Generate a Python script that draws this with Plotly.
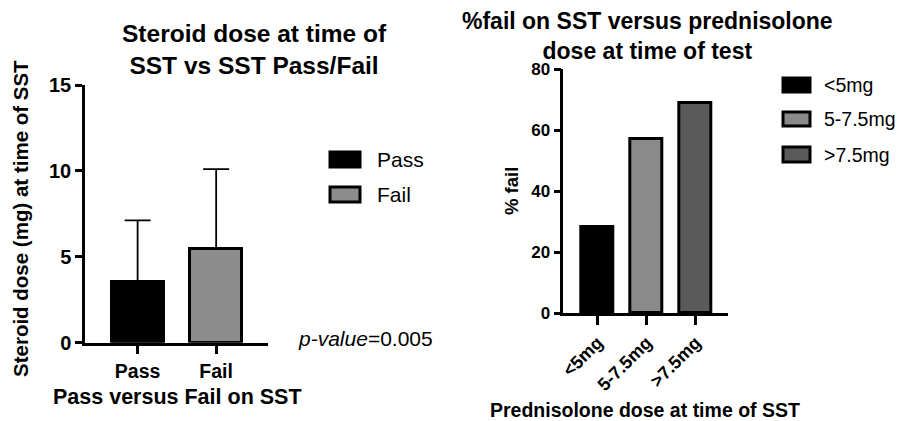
import plotly.graph_objects as go

# ---- data ----
groups = ["Pass", "Fail"]
dose_mean = [3.55, 5.45]
dose_sd = [3.57, 4.65]
group_colors = ["#000000", "#8c8c8c"]

dose_cats = ["<5mg", "5-7.5mg", ">7.5mg"]
pct_fail = [28.2, 57.1, 68.9]
dose_colors = ["#000000", "#8a8a8a", "#5a5a5a"]

W, H = 897, 421
FONT = "Liberation Sans, Arial, sans-serif"

def px(x):
    return x / W

def py(y):
    return 1 - y / H

fig = go.Figure()

fig.add_trace(go.Bar(
    x=groups, y=dose_mean, width=0.66,
    marker=dict(color=group_colors, line=dict(color="black", width=3)),
    error_y=dict(type="data", array=dose_sd, arrayminus=[0] * len(dose_sd),
                 symmetric=False, thickness=1.8, width=13, color="black"),
    xaxis="x", yaxis="y", showlegend=False,
))

fig.add_trace(go.Bar(
    x=dose_cats, y=pct_fail, width=0.65,
    marker=dict(color=dose_colors, line=dict(color="black", width=3)),
    xaxis="x2", yaxis="y2", showlegend=False,
))

def tf(size):
    return dict(family=FONT, size=size, color="black", weight=700)

axis_common = dict(showline=True, linewidth=2.5, linecolor="black", ticks="outside",
                   tickwidth=2.5, tickcolor="black", showgrid=False, zeroline=False,
                   automargin=False)

fig.update_layout(
    template="none",
    width=W, height=H, autosize=False, margin=dict(l=0, r=0, t=0, b=0, pad=0),
    paper_bgcolor="white", plot_bgcolor="white",
    font=dict(family=FONT, color="black"),
    bargap=0, showlegend=False,
    xaxis=dict(domain=[px(85), px(268)], range=[-0.67, 1.66], anchor="y", ticklen=9,
               tickfont=tf(19.5), **axis_common),
    yaxis=dict(domain=[py(342.7), py(85)], range=[0, 15], tickvals=[0, 5, 10, 15],
               anchor="x", ticklen=7, tickfont=tf(20), **axis_common),
    xaxis2=dict(domain=[px(563.3), px(728)], range=[-0.7, 2.66], anchor="y2", ticklen=9,
                tickangle=-45, tickfont=tf(18), **axis_common),
    yaxis2=dict(domain=[py(313.3), py(69)], range=[0, 80], tickvals=[0, 20, 40, 60, 80],
                anchor="x2", ticklen=7, tickfont=tf(17), **axis_common),
)

ann = []
bold = dict(family=FONT, color="black", weight=700)
# titles
ann.append(dict(text="Steroid dose at time of<br>SST vs SST Pass/Fail", x=px(255), y=py(50),
                xanchor="center", yanchor="middle", font=dict(size=24.5, **bold)))
ann.append(dict(text="%fail on SST versus prednisolone<br>dose at time of test", x=px(647), y=py(36),
                xanchor="center", yanchor="middle", font=dict(size=23, **bold)))
# axis titles
ann.append(dict(text="Steroid dose (mg) at time of SST", x=px(21), y=py(219), textangle=-90,
                xanchor="center", yanchor="middle", font=dict(size=20.5, **bold)))
ann.append(dict(text="Pass versus Fail on SST", x=px(177), y=py(397),
                xanchor="center", yanchor="middle", font=dict(size=21.5, **bold)))
ann.append(dict(text="% fail", x=px(512), y=py(191), textangle=-90,
                xanchor="center", yanchor="middle", font=dict(size=18.5, **bold)))
ann.append(dict(text="Prednisolone dose at time of SST", x=px(645), y=py(410),
                xanchor="center", yanchor="middle", font=dict(size=19.5, **bold)))
# p-value
ann.append(dict(text="<i>p-value</i>=0.005", x=px(296), y=py(338),
                xanchor="left", yanchor="middle", font=dict(family=FONT, size=21, color="black")))

shapes = []
# left legend
left_rows = [(151, 168), (186, 203)]
for name, col, (y0, y1) in zip(groups, group_colors, left_rows):
    shapes.append(dict(type="rect", xref="paper", yref="paper", x0=px(330), x1=px(360),
                       y0=py(y1 - 1), y1=py(y0 + 1), fillcolor=col,
                       line=dict(color="black", width=3)))
    ann.append(dict(text=name, x=px(375), y=py((y0 + y1) / 2), xanchor="left", yanchor="middle",
                    font=dict(family=FONT, size=21, color="black")))
# right legend
right_rows = [(77, 93), (111, 127), (146, 163)]
for name, col, (y0, y1) in zip(dose_cats, dose_colors, right_rows):
    shapes.append(dict(type="rect", xref="paper", yref="paper", x0=px(783), x1=px(810),
                       y0=py(y1 - 1), y1=py(y0 + 1), fillcolor=col,
                       line=dict(color="black", width=3)))
    ann.append(dict(text=name, x=px(822), y=py((y0 + y1) / 2), xanchor="left", yanchor="middle",
                    font=dict(family=FONT, size=19.5, color="black")))

for a in ann:
    a.update(xref="paper", yref="paper", showarrow=False)

fig.update_layout(annotations=ann, shapes=shapes)
fig.write_html("out.html", config={"responsive": False, "displayModeBar": False},
               post_script="document.body.style.margin='0';document.body.style.overflow='hidden';")
